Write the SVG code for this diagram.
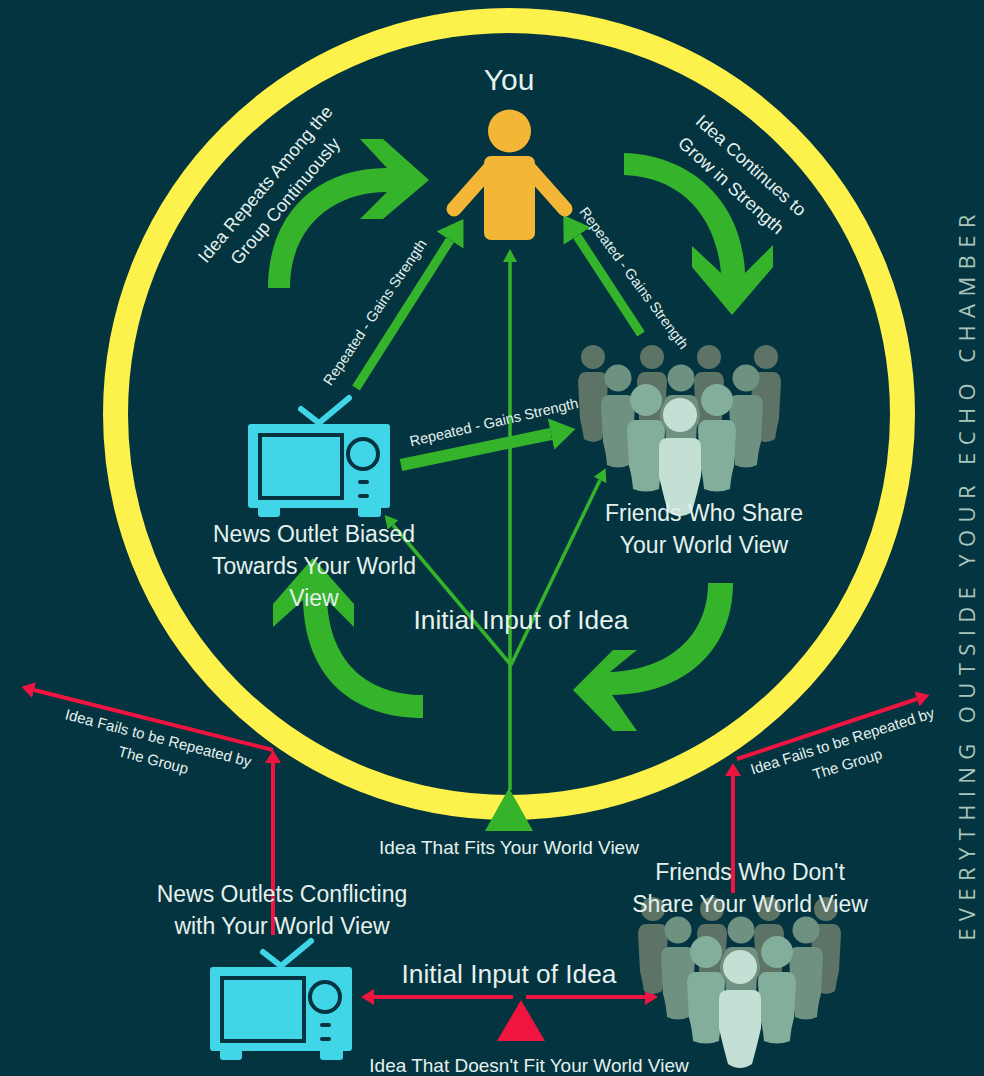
<svg xmlns="http://www.w3.org/2000/svg" xmlns:xlink="http://www.w3.org/1999/xlink" width="984" height="1076" viewBox="0 0 984 1076">
<style>
text{font-family:"Liberation Sans",Arial,sans-serif;fill:#e4f1ee;text-anchor:middle}
.l{font-size:23px}.m{font-size:26.300px}.s{font-size:19px}.t{font-size:18px}.r{font-size:14.500px}.f{font-size:15px}
.big{fill:#35b32b}
.g9{stroke:#35b32b;stroke-width:9;fill:none}
.g3{stroke:#35b32b;stroke-width:3.500;fill:none}
.r4{stroke:#ee1540;stroke-width:4;fill:none}
.tvb{fill:#40d6e8}.tvd{stroke:#04343f;stroke-width:4;fill:#40d6e8}.tva{stroke:#40d6e8;stroke-width:6;stroke-linecap:round;fill:none}
.slot{fill:#04343f}
.p1{fill:#5d7366}.p2{fill:#6f9182}.p3{fill:#83ae9c}.p4{fill:#c4e0d4}
</style>
<defs>
<marker id="hb" markerUnits="userSpaceOnUse" markerWidth="26" markerHeight="32" refX="0" refY="16" orient="auto"><path d="M0,0L25,16L0,32Z" fill="#35b32b"/></marker>
<marker id="hg" markerUnits="userSpaceOnUse" markerWidth="13" markerHeight="14" refX="0" refY="7" orient="auto"><path d="M0,0L13,7L0,14Z" fill="#35b32b"/></marker>
<marker id="hr" markerUnits="userSpaceOnUse" markerWidth="13" markerHeight="16" refX="0" refY="8" orient="auto"><path d="M0,0L13,8L0,16Z" fill="#ee1540"/></marker>
<g id="tv">
<rect class="tvb" x="248" y="424" width="142" height="84" rx="3"/>
<rect class="tvb" x="258" y="505" width="22" height="12" rx="3"/>
<rect class="tvb" x="358" y="505" width="23" height="12" rx="3"/>
<rect class="tvd" x="260" y="435" width="82" height="63"/>
<circle class="tvd" cx="363" cy="454" r="15"/>
<rect class="slot" x="358" y="480" width="11" height="4" rx="2"/>
<rect class="slot" x="358" y="494" width="11" height="4" rx="2"/>
<path class="tva" d="M301,409L319,423L349,398"/>
</g>
<g id="bp"><circle cx="0" cy="0" r="12"/><path d="M-7,15H7Q14,15 15,24L13,62Q11,70 9,82Q0,88 -9,82Q-11,70 -13,62L-15,24Q-14,15 -7,15Z"/></g>
<g id="mp"><circle cx="0" cy="0" r="13.500"/><path d="M-9,17H9Q16,17 17,26L15,64Q12,74 11,87Q0,92 -11,87Q-12,74 -15,64L-17,26Q-16,17 -9,17Z"/></g>
<g id="fp"><circle cx="0" cy="0" r="16"/><path d="M-11,20H11Q18,20 19,30L17,66Q14,76 13,89Q0,94 -13,89Q-14,76 -17,66L-19,30Q-18,20 -11,20Z"/></g>
<g id="people">
<use href="#bp" class="p1" x="593" y="357"/><use href="#bp" class="p1" x="652" y="357"/><use href="#bp" class="p1" x="709" y="357"/><use href="#bp" class="p1" x="766" y="357"/>
<use href="#mp" class="p2" x="618" y="378"/><use href="#mp" class="p2" x="681" y="378"/><use href="#mp" class="p2" x="746" y="378"/>
<use href="#fp" class="p3" x="646" y="400"/><use href="#fp" class="p3" x="717" y="400"/>
<circle class="p2" cx="680" cy="415" r="20"/>
<g class="p4"><circle cx="680" cy="415" r="17"/><path d="M668,438H692Q701,438 701,447V476Q698,490 692,512Q680,520 668,512Q662,490 659,476V447Q659,438 668,438Z"/></g>
</g>
</defs>
<rect width="984" height="1076" fill="#04343f"/>
<circle id="ring" cx="509" cy="414" r="393.500" fill="none" stroke="#fdf14c" stroke-width="25"/>
<g id="connectors">
<path class="big" d="M268,288C268,215 315,168 387,168L360,139H383L429,180L383,219H360L387,192C335,192 290,225 290,288Z"/>
<path class="big" d="M624,153C690,155 742,200 745,273L773,245V267L732,315L692,267V246L721,273C716,215 680,177 624,175Z"/>
<path class="big" d="M733,583C733,650 685,694 612,695L637,731H613L573,690L613,650H637L610,672C670,670 708,635 708,583Z"/>
<path class="big" d="M423,718C355,718 305,680 303,600L273,627V604L313,558L354,604V627L327,600C330,665 370,695 423,695Z"/>
<path class="g9" d="M356,388L450,240" marker-end="url(#hb)"/>
<path class="g9" d="M641,334L577,236" marker-end="url(#hb)"/>
<path class="g9" style="stroke-width:12" d="M401,465L551,434" marker-end="url(#hb)"/>
<path class="g3" d="M510,790V262" marker-end="url(#hg)"/>
<path class="g3" d="M511,665L393,525" marker-end="url(#hg)"/>
<path class="g3" d="M511,665L600,480" marker-end="url(#hg)"/>
<path class="r4" d="M273,935V763" marker-end="url(#hr)"/>
<path class="r4" d="M273,750L34,690" marker-end="url(#hr)"/>
<path class="r4" d="M733,893V776" marker-end="url(#hr)"/>
<path class="r4" d="M737,759L917,699" marker-end="url(#hr)"/>
<path class="r4" d="M513,997H374" marker-end="url(#hr)"/>
<path class="r4" d="M526,997H645" marker-end="url(#hr)"/>
</g>
<g id="you">
<ellipse cx="509.500" cy="131" rx="21.500" ry="21.500" fill="#f3b636"/>
<rect x="484" y="156" width="51" height="84" rx="7" fill="#f3b636"/>
<path d="M493,165L454,209M526,165L565,209" stroke="#f3b636" stroke-width="15" stroke-linecap="round" fill="none"/>
<text x="509" y="90" font-size="30">You</text>
</g>
<g id="news-biased">
<use href="#tv"/>
<text class="l" x="314" y="542">News Outlet Biased</text>
<text class="l" x="314" y="574">Towards Your World</text>
<text class="l" x="314" y="606">View</text>
</g>
<g id="friends-share">
<use href="#people"/>
<text class="l" x="704" y="521">Friends Who Share</text>
<text class="l" x="704" y="553">Your World View</text>
</g>
<g id="idea-fits">
<path d="M509,788L533,831H485Z" fill="#35b32b"/>
<text class="m" x="521" y="629">Initial Input of Idea</text>
<text class="s" x="509" y="854">Idea That Fits Your World View</text>
</g>
<g id="news-conflicting">
<use href="#tv" x="-38" y="543"/>
<text class="l" x="282" y="902">News Outlets Conflicting</text>
<text class="l" x="282" y="934">with Your World View</text>
</g>
<g id="friends-dont">
<use href="#people" x="60" y="552"/>
<text class="l" x="750" y="880">Friends Who Don't</text>
<text class="l" x="750" y="912">Share Your World View</text>
</g>
<g id="idea-doesnt-fit">
<path d="M521,1000L545,1041H497Z" fill="#ee1540"/>
<text class="m" x="509" y="983">Initial Input of Idea</text>
<text class="s" x="529" y="1072">Idea That Doesn't Fit Your World View</text>
</g>
<g id="labels">
<text class="t" transform="translate(270,188) rotate(-50)">Idea Repeats Among the</text>
<text class="t" transform="translate(290,205) rotate(-50)">Group Continuously</text>
<text class="t" transform="translate(747,170) rotate(42)">Idea Continues to</text>
<text class="t" transform="translate(727,190) rotate(42)">Grow in Strength</text>
<text class="r" transform="translate(379,315) rotate(-56)">Repeated - Gains Strength</text>
<text class="r" transform="translate(630,281) rotate(53.500)">Repeated - Gains Strength</text>
<text class="r" transform="translate(495,427) rotate(-13)">Repeated - Gains Strength</text>
<text class="f" transform="translate(157,743) rotate(14.500)">Idea Fails to be Repeated by</text>
<text class="f" transform="translate(152,765) rotate(14.500)">The Group</text>
<text class="f" transform="translate(844,746) rotate(-17.500)">Idea Fails to be Repeated by</text>
<text class="f" transform="translate(849,769) rotate(-17.500)">The Group</text>
<text transform="translate(975,574) rotate(-90)" font-size="22" letter-spacing="7.400" style="fill:#a8c6bd;font-family:'Open Sans',sans-serif">EVERYTHING OUTSIDE YOUR ECHO CHAMBER</text>
</g>
</svg>
